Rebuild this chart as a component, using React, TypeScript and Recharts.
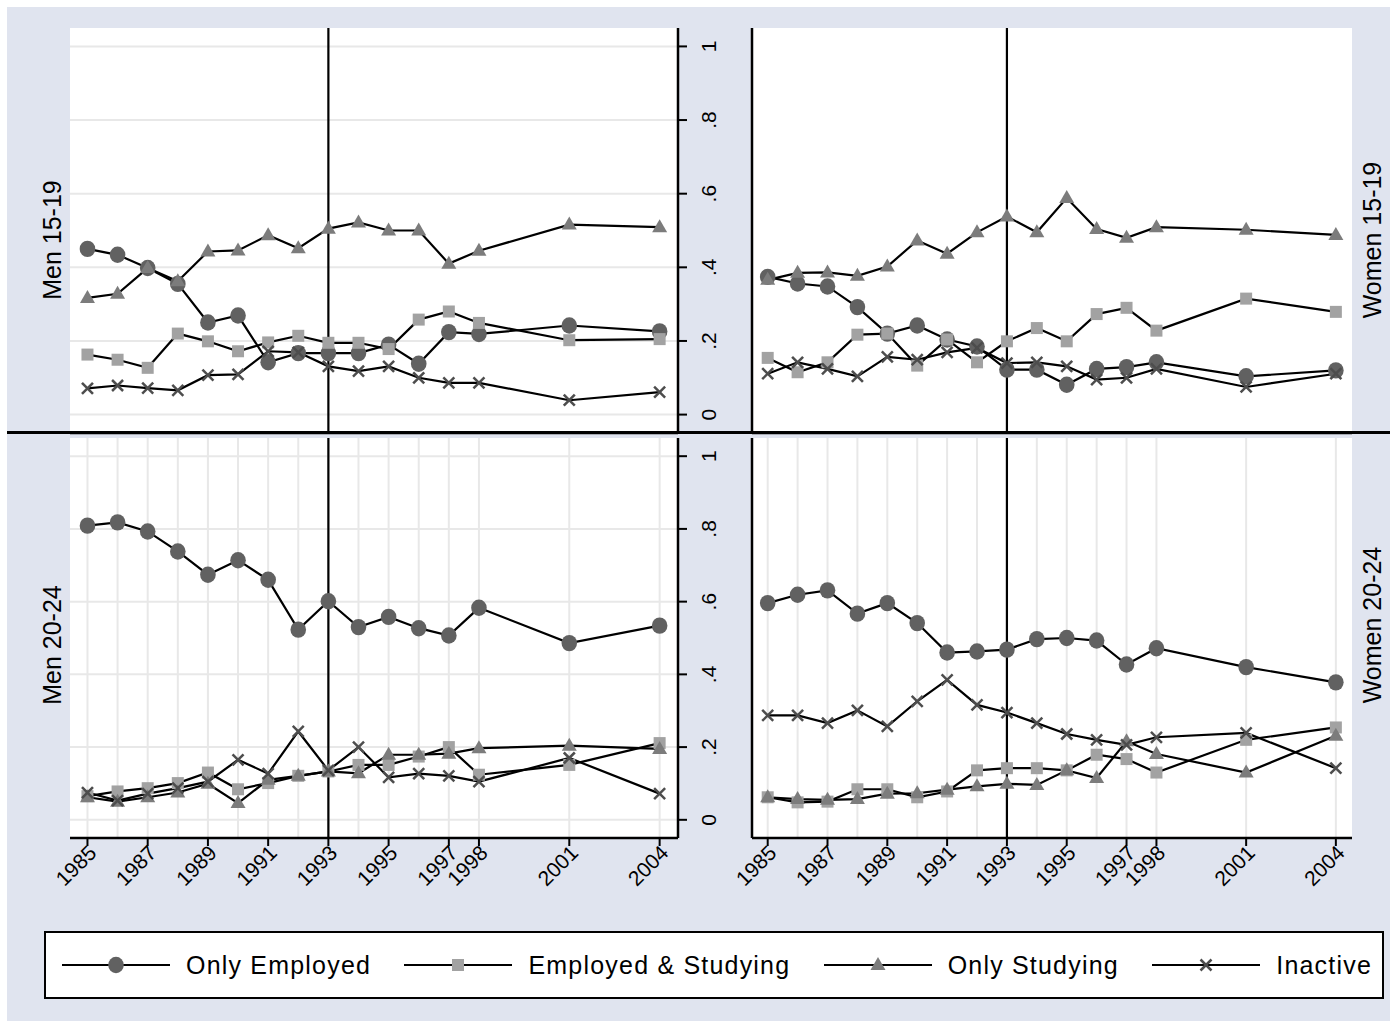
import React from 'react'
import { LineChart, Line, XAxis, YAxis, CartesianGrid, ReferenceLine } from 'recharts'

const YEARS = [1985, 1986, 1987, 1988, 1989, 1990, 1991, 1992, 1993, 1994, 1995, 1996, 1997, 1998, 2001, 2004]
const YEAR_TICKS = [1985, 1987, 1989, 1991, 1993, 1995, 1997, 1998, 2001, 2004]
const SHARE_TICKS = [0, 0.2, 0.4, 0.6, 0.8, 1]
const SHARE_LABELS = ['0', '.2', '.4', '.6', '.8', '1']
const REFORM_YEAR = 1993

// Men 15-19
const menTeenEmployed = [0.45, 0.434, 0.398, 0.355, 0.25, 0.269, 0.142, 0.167, 0.167, 0.167, 0.19, 0.138, 0.224, 0.219, 0.242, 0.226]
const menTeenBoth = [0.163, 0.149, 0.127, 0.22, 0.199, 0.172, 0.196, 0.214, 0.195, 0.195, 0.178, 0.258, 0.28, 0.249, 0.202, 0.205]
const menTeenStudying = [0.317, 0.328, 0.398, 0.362, 0.443, 0.446, 0.487, 0.452, 0.505, 0.522, 0.5, 0.5, 0.41, 0.445, 0.516, 0.509]
const menTeenInactive = [0.071, 0.079, 0.072, 0.066, 0.107, 0.109, 0.172, 0.169, 0.131, 0.118, 0.131, 0.1, 0.086, 0.086, 0.039, 0.061]

// Women 15-19
const womenTeenEmployed = [0.374, 0.356, 0.348, 0.292, 0.22, 0.242, 0.204, 0.185, 0.122, 0.122, 0.081, 0.124, 0.129, 0.142, 0.104, 0.12]
const womenTeenBoth = [0.154, 0.115, 0.142, 0.217, 0.22, 0.133, 0.204, 0.142, 0.199, 0.235, 0.199, 0.273, 0.29, 0.228, 0.315, 0.279]
const womenTeenStudying = [0.366, 0.385, 0.386, 0.377, 0.402, 0.473, 0.437, 0.495, 0.538, 0.495, 0.588, 0.504, 0.48, 0.509, 0.502, 0.488]
const womenTeenInactive = [0.111, 0.142, 0.124, 0.104, 0.157, 0.149, 0.169, 0.181, 0.14, 0.142, 0.131, 0.095, 0.1, 0.124, 0.075, 0.111]

// Men 20-24
const menYoungEmployed = [0.809, 0.818, 0.793, 0.738, 0.674, 0.714, 0.66, 0.523, 0.601, 0.53, 0.558, 0.527, 0.507, 0.583, 0.486, 0.534]
const menYoungBoth = [0.065, 0.078, 0.087, 0.101, 0.13, 0.084, 0.101, 0.121, 0.133, 0.151, 0.151, 0.174, 0.2, 0.124, 0.151, 0.211]
const menYoungStudying = [0.062, 0.05, 0.062, 0.075, 0.099, 0.046, 0.11, 0.121, 0.133, 0.128, 0.179, 0.179, 0.182, 0.197, 0.204, 0.195]
const menYoungInactive = [0.075, 0.053, 0.072, 0.087, 0.105, 0.165, 0.127, 0.243, 0.136, 0.2, 0.117, 0.127, 0.121, 0.105, 0.17, 0.072]

// Women 20-24
const womenYoungEmployed = [0.596, 0.619, 0.631, 0.567, 0.596, 0.541, 0.46, 0.463, 0.468, 0.497, 0.5, 0.493, 0.427, 0.472, 0.42, 0.378]
const womenYoungBoth = [0.062, 0.048, 0.05, 0.084, 0.084, 0.062, 0.078, 0.136, 0.142, 0.142, 0.136, 0.179, 0.167, 0.13, 0.22, 0.254]
const womenYoungStudying = [0.062, 0.057, 0.055, 0.057, 0.072, 0.073, 0.083, 0.092, 0.099, 0.096, 0.136, 0.115, 0.216, 0.181, 0.13, 0.231]
const womenYoungInactive = [0.287, 0.287, 0.266, 0.301, 0.257, 0.326, 0.385, 0.316, 0.295, 0.266, 0.236, 0.22, 0.206, 0.227, 0.239, 0.142]

const SERIES = [
  { key: 'employed', name: 'Only Employed' },
  { key: 'both', name: 'Employed & Studying' },
  { key: 'studying', name: 'Only Studying' },
  { key: 'inactive', name: 'Inactive' },
]

const FONT = '"Liberation Sans", Arial, Helvetica, sans-serif'
const BG = '#e0e4ef'
const GRID = '#e8e8e8'

function buildRows(employed: number[], both: number[], studying: number[], inactive: number[]) {
  return YEARS.map((year, i) => ({
    year,
    employed: employed[i],
    both: both[i],
    studying: studying[i],
    inactive: inactive[i],
  }))
}

const PANELS = [
  { label: 'Men 15-19', col: 0, row: 0, rows: buildRows(menTeenEmployed, menTeenBoth, menTeenStudying, menTeenInactive) },
  { label: 'Women 15-19', col: 1, row: 0, rows: buildRows(womenTeenEmployed, womenTeenBoth, womenTeenStudying, womenTeenInactive) },
  { label: 'Men 20-24', col: 0, row: 1, rows: buildRows(menYoungEmployed, menYoungBoth, menYoungStudying, menYoungInactive) },
  { label: 'Women 20-24', col: 1, row: 1, rows: buildRows(womenYoungEmployed, womenYoungBoth, womenYoungStudying, womenYoungInactive) },
]

// marker shapes, Stata s2color style
function CircleMark({ cx, cy }: any) {
  if (cx == null || cy == null) return <g />
  return <ellipse cx={cx} cy={cy} rx={7.8} ry={8.2} fill="#616161" />
}
function SquareMark({ cx, cy }: any) {
  if (cx == null || cy == null) return <g />
  return <rect x={cx - 6} y={cy - 6} width={12} height={12} fill="#a2a2a2" />
}
function TriangleMark({ cx, cy }: any) {
  if (cx == null || cy == null) return <g />
  return <polygon points={`${cx},${cy - 8} ${cx - 7.5},${cy + 5} ${cx + 7.5},${cy + 5}`} fill="#7c7c7c" />
}
function CrossMark({ cx, cy }: any) {
  if (cx == null || cy == null) return <g />
  const s = 5.5
  return (
    <g stroke="#4d4d4d" strokeWidth={2.5}>
      <line x1={cx - s} y1={cy - s} x2={cx + s} y2={cy + s} />
      <line x1={cx - s} y1={cy + s} x2={cx + s} y2={cy - s} />
    </g>
  )
}
const MARKS = [CircleMark, SquareMark, TriangleMark, CrossMark]

function YearTick({ x, y, payload }: any) {
  const tx = x + 5
  const ty = y + 1
  return (
    <text x={tx} y={ty} transform={`rotate(-45 ${tx} ${ty})`} textAnchor="end" dy="0.35em"
      fontSize={21} fontFamily={FONT} fill="#000">
      {payload.value}
    </text>
  )
}

function ShareTick({ x, y, payload }: any) {
  const tx = x + 27
  const i = SHARE_TICKS.indexOf(payload.value)
  return (
    <text x={tx} y={y} transform={`rotate(-90 ${tx} ${y})`} textAnchor="middle"
      fontSize={21} fontFamily={FONT} fill="#000">
      {SHARE_LABELS[i]}
    </text>
  )
}

function Panel({ rows, col, row }: any) {
  const isLeft = col === 0
  const isTop = row === 0
  const width = isLeft ? 748 : 706
  const height = isTop ? 440 : 500
  const margin = {
    top: isTop ? 28 : 8,
    left: isLeft ? 70 : 0,
    right: isLeft ? 10 : 44,
    bottom: isTop ? 5 : 42,
  }
  const xDomain = isLeft ? [1984.42, 2004.61] : [1984.475, 2004.54]
  return (
    <div style={{ position: 'absolute', left: isLeft ? 0 : 690, top: isTop ? 0 : 430 }}>
      <LineChart width={width} height={height} data={rows} margin={margin}>
        <CartesianGrid
          fill="#fff"
          stroke={GRID}
          strokeWidth={2}
          verticalValues={YEARS}
          horizontalValues={SHARE_TICKS}
        />
        <XAxis
          dataKey="year"
          type="number"
          domain={xDomain}
          allowDataOverflow
          ticks={isTop ? YEARS : YEAR_TICKS}
          interval={0}
          height={isTop ? 2 : 50}
          axisLine={{ stroke: '#000', strokeWidth: 2.5 }}
          tickLine={isTop ? false : { stroke: '#000', strokeWidth: 2 }}
          tickSize={8}
          tick={isTop ? false : <YearTick />}
        />
        <YAxis
          type="number"
          orientation={isLeft ? 'right' : 'left'}
          domain={[-0.05, 1.05]}
          allowDataOverflow
          ticks={SHARE_TICKS}
          interval={0}
          width={isLeft ? 60 : 62}
          axisLine={{ stroke: '#000', strokeWidth: 2.5 }}
          tickLine={{ stroke: '#000', strokeWidth: 2 }}
          tickSize={9}
          tick={isLeft ? <ShareTick /> : false}
        />
        <ReferenceLine x={REFORM_YEAR} stroke="#000" strokeWidth={2.2} />
        {SERIES.map((s, i) => {
          const Mark = MARKS[i]
          return (
            <Line
              key={s.key}
              dataKey={s.key}
              name={s.name}
              type="linear"
              stroke="#000"
              strokeWidth={2.2}
              dot={(p: any) => <Mark key={`${s.key}-${p.index}`} cx={p.cx} cy={p.cy} />}
              activeDot={false}
              isAnimationActive={false}
            />
          )
        })}
      </LineChart>
    </div>
  )
}

function SideLabel({ text, cx, cy }: { text: string; cx: number; cy: number }) {
  return (
    <div
      style={{
        position: 'absolute',
        left: cx,
        top: cy,
        transform: 'translate(-50%, -50%) rotate(-90deg)',
        whiteSpace: 'nowrap',
        fontFamily: FONT,
        fontSize: 25,
        lineHeight: '28px',
        color: '#000',
      }}
    >
      {text}
    </div>
  )
}

function LegendKey({ index }: { index: number }) {
  const Mark = MARKS[index]
  return (
    <svg width={108} height={24} style={{ display: 'block', flex: 'none' }}>
      <line x1={0} y1={12} x2={108} y2={12} stroke="#000" strokeWidth={2.2} />
      <Mark cx={54} cy={12} />
    </svg>
  )
}

export default function App() {
  return (
    <div style={{ position: 'absolute', left: 0, top: 0, width: 1396, height: 1027, background: '#fff', overflow: 'hidden' }}>
      <div style={{ position: 'absolute', left: 7, top: 7, width: 1383, height: 1014, background: BG }} />
      {PANELS.map((p) => (
        <Panel key={p.label} rows={p.rows} col={p.col} row={p.row} />
      ))}
      <div style={{ position: 'absolute', left: 7, top: 431, width: 1383, height: 2.5, background: '#000' }} />
      <SideLabel text="Men 15-19" cx={52} cy={240} />
      <SideLabel text="Women 15-19" cx={1372} cy={240} />
      <SideLabel text="Men 20-24" cx={52} cy={645} />
      <SideLabel text="Women 20-24" cx={1372} cy={625} />
      <div
        style={{
          position: 'absolute',
          left: 44,
          top: 931,
          width: 1340,
          height: 68,
          boxSizing: 'border-box',
          background: '#fff',
          border: '2px solid #000',
          display: 'flex',
          alignItems: 'center',
          justifyContent: 'space-between',
          paddingLeft: 16,
          paddingRight: 10,
          fontFamily: FONT,
          fontSize: 25,
          letterSpacing: 1.2,
          color: '#000',
        }}
      >
        {SERIES.map((s, i) => (
          <div key={s.key} style={{ display: 'flex', alignItems: 'center' }}>
            <LegendKey index={i} />
            <span style={{ marginLeft: 16, whiteSpace: 'nowrap' }}>{s.name}</span>
          </div>
        ))}
      </div>
    </div>
  )
}
